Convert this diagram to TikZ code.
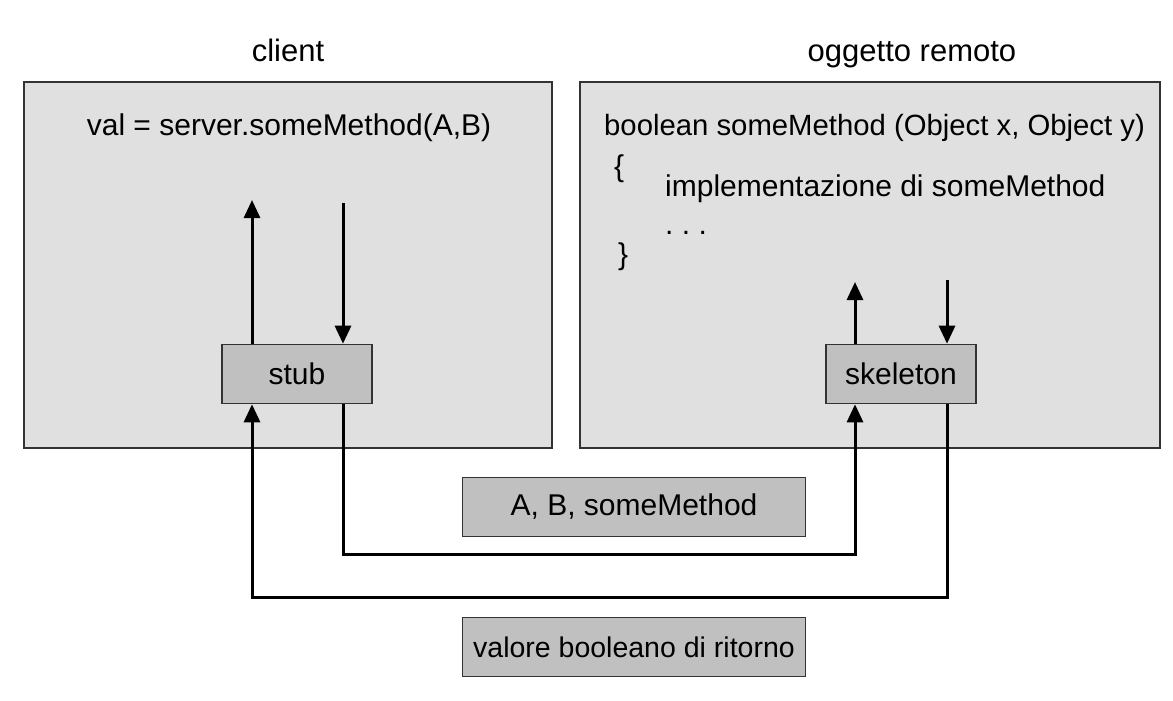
\documentclass[tikz,border=0pt]{standalone}
\usepackage{fontspec}
\setmainfont{Liberation Sans}
\usetikzlibrary{arrows.meta,calc}
\definecolor{bigfill}{HTML}{E0E0E0}
\definecolor{smallfill}{HTML}{C0C0C0}
\definecolor{edge}{HTML}{333333}
\begin{document}
\begin{tikzpicture}[x=1pt,y=-1pt,
  txt/.style={font=\fontsize{30}{35}\selectfont, inner sep=0pt},
  ttl/.style={font=\fontsize{31}{36}\selectfont, inner sep=0pt},
  bigbox/.style={draw=edge, fill=bigfill, line width=1.6pt, minimum width=#1, minimum height=366pt, inner sep=0pt},
  smallbox/.style={draw=edge, fill=smallfill, line width=1.6pt, minimum width=#1, minimum height=59pt, inner sep=0pt, font=\fontsize{30}{35}\selectfont},
  arr/.style={line width=3pt, -{Triangle[length=18pt,width=16pt]}},
]
\useasboundingbox (0,0) rectangle (1173,701);
\fill[white] (0,0) rectangle (1173,701);

% titles
\node[ttl, anchor=base] (tclient) at (288,62) {client};
\node[ttl, anchor=base] (tremote) at (912,62) {oggetto remoto};

% big boxes
\node[bigbox=528pt] (client) at (288,265) {};
\node[bigbox=580pt] (remote) at (870,265) {};

% code texts
\node[txt, anchor=base] (call) at (289,135) {val = server.someMethod(A,B)};
\node[txt, anchor=base west, font=\fontsize{29.3}{35}\selectfont] (sig) at (604,135) {boolean someMethod (Object x, Object y)};
\node[txt, anchor=base west] (lbr) at (614,176) {\{};
\node[txt, anchor=base west] (impl) at (665,196) {implementazione di someMethod};
\node[txt, anchor=base west] (dots) at (665,234) {.~.~.};
\node[txt, anchor=base west] (rbr) at (618,264) {\}};

% stub / skeleton
\node[smallbox=150pt] (stub) at (297,374) {stub};
\node[smallbox=150pt] (skel) at (901,374) {skeleton};

% message boxes
\node[smallbox=343pt] (msg) at (634,507) {A, B, someMethod};
\node[smallbox=343pt, font=\fontsize{28.5}{34}\selectfont] (ret) at (634,647) {valore booleano di ritorno};

% free ends
\coordinate (cup) at (252,200);
\coordinate (cdown) at (343,203);
\coordinate (sup1) at (855,282);
\coordinate (sdown) at (947,280);
\coordinate (callrow) at (600,554);
\coordinate (retrow) at (600,597);

% arrows inside boxes
\draw[arr] ([xshift=-45pt]stub.north) -- (cup);
\draw[arr] (cdown) -- ([xshift=46pt]stub.north);
\draw[arr] ([xshift=-46pt]skel.north) -- (sup1);
\draw[arr] (sdown) -- ([xshift=46pt]skel.north);

% network connectors
\draw[arr] ([xshift=46pt]stub.south) |- (callrow) -| ([xshift=-46pt]skel.south);
\draw[arr] ([xshift=46pt]skel.south) |- (retrow) -| ([xshift=-45pt]stub.south);
\end{tikzpicture}
\end{document}
